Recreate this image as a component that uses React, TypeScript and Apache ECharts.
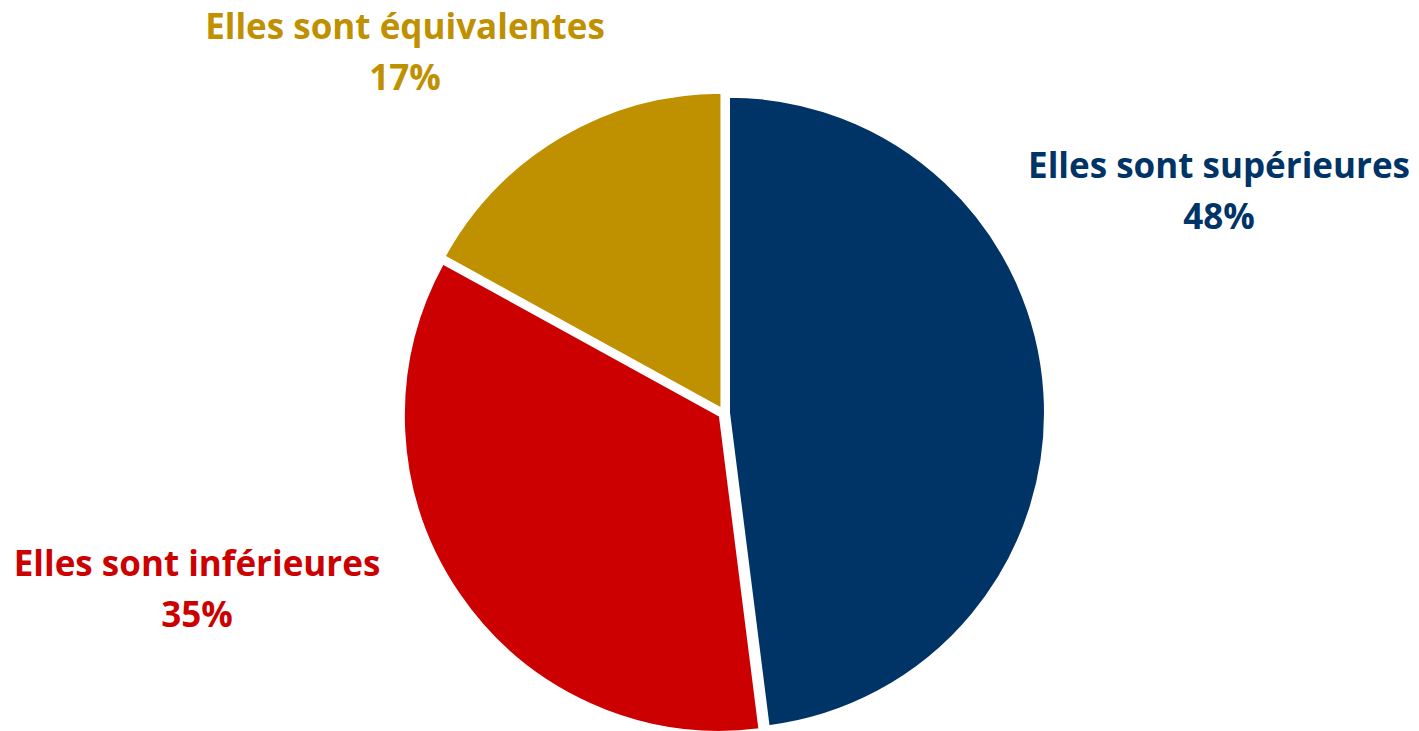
import React, { useEffect, useRef } from "react";
import * as echarts from "echarts";

// Survey answers: how the compared values rank
const categories = ["Elles sont supérieures", "Elles sont inférieures", "Elles sont équivalentes"];
const shares = [48, 35, 17];
const colors = ["#003366", "#CC0000", "#BF9000"];

// Label anchor points (centre of each two-line label), in px
const labelAnchors: [number, number][] = [
  [1219, 190],
  [197, 588],
  [405, 51],
];

export default function App() {
  const ref = useRef<HTMLDivElement>(null);

  useEffect(() => {
    if (!ref.current) return;
    const chart = echarts.init(ref.current, null, { renderer: "svg" });
    chart.setOption({
      animation: false,
      backgroundColor: "#ffffff",
      series: [
        {
          type: "pie",
          center: [724, 413],
          radius: 316,
          startAngle: 90,
          clockwise: true,
          selectedMode: "multiple",
          selectedOffset: 5,
          emphasis: { disabled: true },
          itemStyle: { borderColor: "#ffffff", borderWidth: 2 },
          labelLine: { show: false },
          label: { show: false },
          data: categories.map((name, i) => ({
            name,
            value: shares[i],
            selected: true,
            itemStyle: { color: colors[i] },
          })),
        },
      ],
      graphic: categories.map((name, i) => ({
        type: "text",
        x: labelAnchors[i][0],
        y: labelAnchors[i][1],
        silent: true,
        style: {
          text: `${name}\n${shares[i]}%`,
          fill: colors[i],
          fontFamily: "'Open Sans', sans-serif",
          fontWeight: "bold",
          fontSize: 35,
          lineHeight: 51,
          align: "center",
          verticalAlign: "middle",
        },
      })),
    });
    return () => chart.dispose();
  }, []);

  return (
    <div
      ref={ref}
      style={{ position: "fixed", left: 0, top: 0, width: 1419, height: 731 }}
    />
  );
}
